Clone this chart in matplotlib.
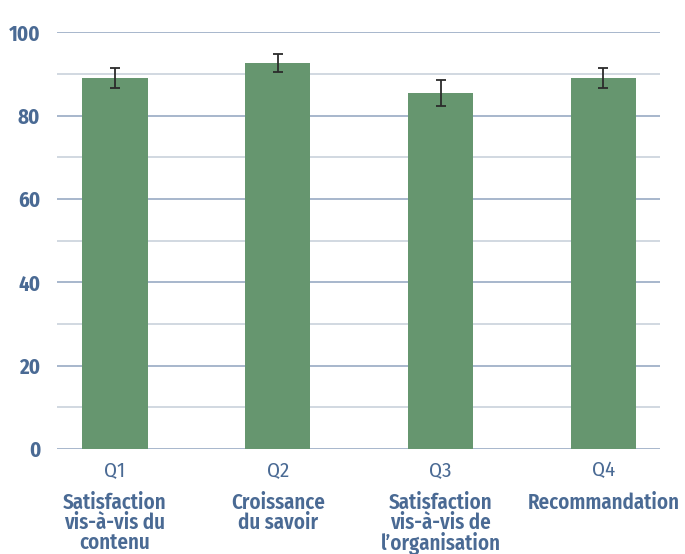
import matplotlib.pyplot as plt
from matplotlib.ticker import MultipleLocator
from matplotlib.transforms import blended_transform_factory

questions = ['Q1', 'Q2', 'Q3', 'Q4']
names = ['Satisfaction\nvis-à-vis du\ncontenu', 'Croissance\ndu savoir',
         'Satisfaction\nvis-à-vis de\nl\u2019organisation', 'Recommandation']
scores = [89.0, 92.6, 85.5, 89.0]
errors = [2.3, 2.2, 3.1, 2.4]

txt = '#4a6a94'
bar_col = '#66966f'
font = ['Fira Sans Condensed', 'DejaVu Sans']

fig = plt.figure(figsize=(6.85, 5.54), dpi=100)
ax = fig.add_axes([0.083, 0.1895, 0.881, 0.7525])

x = range(len(questions))
ax.bar(x, scores, width=0.4, color=bar_col, zorder=3)
ax.errorbar(x, scores, yerr=errors, fmt='none', ecolor='#2b2b2b',
            elinewidth=1.3, capsize=3.8, capthick=1.3, zorder=4)

ax.set_ylim(0, 100)
ax.set_xlim(-0.357, 3.35)
ax.yaxis.set_major_locator(MultipleLocator(20))
ax.yaxis.set_minor_locator(MultipleLocator(10))
ax.grid(which='major', axis='y', color='#8fa3be', lw=1.1, zorder=0)
ax.grid(which='minor', axis='y', color='#c5ced9', lw=1.1, zorder=0)
for s in ax.spines.values():
    s.set_visible(False)

ax.tick_params(axis='both', which='both', length=0)
ax.tick_params(axis='y', pad=12)
ax.tick_params(axis='x', pad=8)
ax.set_xticks(list(x))
ax.set_xticklabels(questions, color=txt, fontsize=15, family=font, fontweight='normal')
for lab in ax.get_yticklabels():
    lab.set_color(txt)
    lab.set_fontsize(15)
    lab.set_fontweight('bold')
    lab.set_family(font)

trans = blended_transform_factory(ax.transData, fig.transFigure)
for i, n in enumerate(names):
    ax.text(i, 1 - 492 / 554, n, transform=trans, ha='center', va='top',
            color=txt, fontsize=15, fontweight='semibold', family=font,
            linespacing=0.92)

fig.savefig('out.png', dpi=100)
